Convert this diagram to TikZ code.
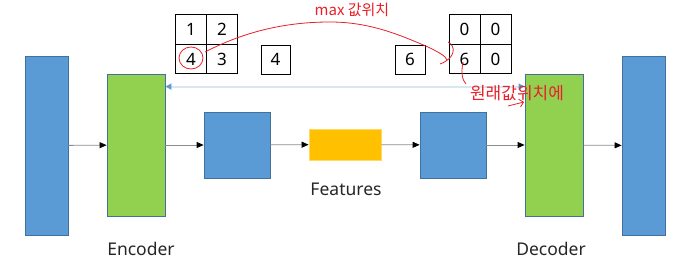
\documentclass[tikz,border=0pt]{standalone}
\usepackage{fontspec}
\setmainfont{Noto Sans}
\newfontfamily\kr{Noto Sans CJK KR}
\usetikzlibrary{arrows.meta}
\definecolor{bfill}{HTML}{5B9BD5}
\definecolor{bline}{HTML}{41719C}
\definecolor{gfill}{HTML}{92D050}
\definecolor{ofill}{HTML}{FFC000}
\definecolor{oline}{HTML}{FFD966}
\definecolor{lbline}{HTML}{DAE6F3}
\definecolor{txt}{HTML}{262626}
\definecolor{pen}{HTML}{E8202A}
\tikzset{
  bluebox/.style={draw=bline, fill=bfill, line width=0.8pt, inner sep=0pt},
  greenbox/.style={draw=bline, fill=gfill, line width=0.8pt, inner sep=0pt, minimum width=58pt, minimum height=142pt},
  orangebox/.style={draw=oline, fill=ofill, line width=0.8pt, inner sep=0pt},
  conn/.style={draw=gray!90, line width=0.8pt, -{Triangle[length=7pt,width=6pt,fill=black,color=black]}},
  lbarrow/.style={draw=lbline, line width=2pt, {Triangle[length=6pt,width=6pt,color=bfill]}-{Triangle[length=6pt,width=6pt,color=bfill]}},
  cell/.style={draw=black, line width=0.9pt, minimum width=31pt, minimum height=29.5pt, inner sep=0pt, font=\fontsize{17}{20}\selectfont, text=black},
  lbl/.style={font=\fontsize{17.5}{20}\selectfont, text=txt},
  pennote/.style={text=pen, font=\kr\fontsize{15}{17}\selectfont, inner sep=1pt},
  penline/.style={draw=pen, line width=0.8pt}
}
\begin{document}
\begin{tikzpicture}[x=1pt,y=-1pt]
\useasboundingbox[fill=white] (0,0) rectangle (678,270);
% main chain
\node[bluebox, minimum width=43pt, minimum height=179pt] (in) at (46.5,145.5) {};
\node[greenbox] (enc) at (136,145) {};
\node[bluebox, minimum width=66pt, minimum height=66pt] (b1) at (237,145) {};
\node[orangebox, minimum width=72pt, minimum height=31pt] (feat) at (345,144.5) {};
\node[bluebox, minimum width=66pt, minimum height=66pt] (b2) at (453,145) {};
\node[greenbox] (dec) at (554,145) {};
\node[bluebox, minimum width=43pt, minimum height=179pt] (out) at (643.5,145.5) {};
\draw[conn] (in) -- (enc);
\draw[conn] (enc) -- (b1);
\draw[conn] (b1) -- (feat);
\draw[conn] (feat) -- (b2);
\draw[conn] (b2) -- (dec);
\draw[conn] (dec) -- (out);
\draw[lbarrow] ([yshift=-13pt]enc.north east) -- ([yshift=-13pt]dec.north west);
% labels
\node[lbl] (encl) at (141,249) {Encoder};
\node[lbl] (featl) at (346,189) {Features};
\node[lbl] (decl) at (551,249) {Decoder};
% grid 1
\node[cell] (a11) at (191,29.5) {1};
\node[cell] (a12) at (222,29.5) {2};
\node[cell] (a21) at (191,59) {4};
\node[cell] (a22) at (222,59) {3};
\node[cell, minimum width=29pt, minimum height=29pt] (m4) at (275.5,59.5) {4};
% grid 2
\node[cell, minimum width=30pt, minimum height=29pt] (m6) at (410,59.5) {6};
\node[cell] (c11) at (464.5,29.5) {0};
\node[cell] (c12) at (495.5,29.5) {0};
\node[cell] (c21) at (464.5,59) {6};
\node[cell] (c22) at (495.5,59) {0};
% pen annotations
\draw[penline] (191,58) ellipse (12pt and 11pt);
\coordinate (p0) at (205,52);
\coordinate (p1) at (330,22);
\coordinate (p2) at (428,47);
\draw[penline] (p0) .. controls (240,34) and (280,22) .. (p1)
  .. controls (370,22) and (400,35) .. (p2)
  .. controls (438,52) and (446,56) .. (447,60);
\draw[penline] (448,42) .. controls (456,46) and (456,58) .. (440,64);
\coordinate (q0) at (463,62);
\coordinate (q1) at (466,84);
\draw[penline] (q0) .. controls (461,72) and (462,80) .. (q1);
\node[pennote, font=\kr\fontsize{17}{19}\selectfont] (t2) at (517,93) {원래값위치에};
\coordinate (r0) at (508,106);
\coordinate (r1) at (524,102);
\draw[penline, -{Straight Barb[length=4pt]}] (r0) -- (r1);
\node[pennote] (t1) at (352,10) {max 값위치};
\end{tikzpicture}
\end{document}
